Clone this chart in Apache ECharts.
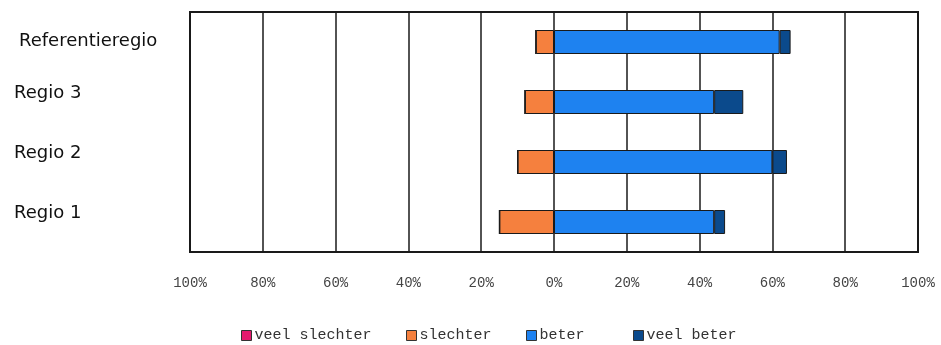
<!DOCTYPE html>
<html>
<head>
<meta charset="utf-8">
<script src="https://cdn.jsdelivr.net/npm/echarts@6/dist/echarts.min.js"></script>
<style>
  html, body { margin: 0; padding: 0; background: #fff; }
  #main { width: 941px; height: 345px; }
</style>
</head>
<body>
<div id="main"></div>
<script>
// categories from bottom to top
var regios = ['Regio 1', 'Regio 2', 'Regio 3', 'Referentieregio'];

// percentages, negative = worse
var veelSlechter = [0, 0, 0, 0];
var slechter = [-15, -10, -8, -5];
var beter = [44, 60, 44, 62];
var veelBeter = [3, 4, 8, 3];

var tickLabels = ['100%', '80%', '60%', '40%', '20%', '0%', '20%', '40%', '60%', '80%', '100%'];

var kleuren = {
    'veel slechter': '#e41a6e',
    'slechter': '#f5803e',
    'beter': '#1e82f0',
    'veel beter': '#0b4a8c'
};

var dom = document.getElementById('main');
var chart = echarts.init(dom);

function maakSerie(naam, waarden) {
    return {
        name: naam,
        type: 'bar',
        stack: 'totaal',
        data: waarden,
        barWidth: 24,
        itemStyle: {
            color: kleuren[naam],
            borderColor: '#1a1a1a',
            borderWidth: 1
        },
        emphasis: { disabled: true }
    };
}

function maakLegenda(naam, links) {
    return {
        left: links,
        top: 328,
        padding: 0,
        itemWidth: 10,
        itemHeight: 10,
        icon: 'rect',
        itemStyle: { borderColor: '#333', borderWidth: 1 },
        textStyle: {
            fontFamily: 'Liberation Mono',
            fontSize: 15,
            color: '#333',
            padding: [0, 0, 0, -2]
        },
        data: [naam]
    };
}

var option = {
    backgroundColor: '#fff',
    animation: false,
    legend: [
        maakLegenda('veel slechter', 241),
        maakLegenda('slechter', 406),
        maakLegenda('beter', 526),
        maakLegenda('veel beter', 633)
    ],
    grid: {
        left: 190,
        right: 23,
        top: 12,
        bottom: 93,
        show: true,
        borderColor: '#1a1a1a',
        borderWidth: 2
    },
    xAxis: {
        type: 'value',
        min: -100,
        max: 100,
        interval: 20,
        axisLine: { show: false },
        axisTick: { show: false },
        splitLine: {
            lineStyle: { color: '#1a1a1a', width: 1.5 }
        },
        axisLabel: {
            margin: 24,
            fontFamily: 'Liberation Mono',
            fontSize: 14,
            color: '#444',
            formatter: function (v) {
                return tickLabels[Math.round((v + 100) / 20)];
            }
        }
    },
    yAxis: {
        type: 'category',
        data: regios,
        axisLine: { show: false },
        axisTick: { show: false },
        axisLabel: {
            align: 'left',
            margin: 176,
            fontFamily: 'DejaVu Sans',
            fontSize: 18,
            color: '#111',
            formatter: function (v) {
                return v === 'Referentieregio' ? '{r|' + v + '}' : '{n|' + v + '}';
            },
            rich: {
                r: { fontFamily: 'DejaVu Sans', fontSize: 18, color: '#111', padding: [0, 0, 2, 5] },
                n: { fontFamily: 'DejaVu Sans', fontSize: 18, color: '#111', padding: [0, 0, 17, 0] }
            }
        }
    },
    series: [
        maakSerie('slechter', slechter),
        maakSerie('veel slechter', veelSlechter),
        maakSerie('beter', beter),
        maakSerie('veel beter', veelBeter)
    ]
};

chart.setOption(option);
window.addEventListener('resize', function () {
    chart.resize();
});
</script>
</body>
</html>
